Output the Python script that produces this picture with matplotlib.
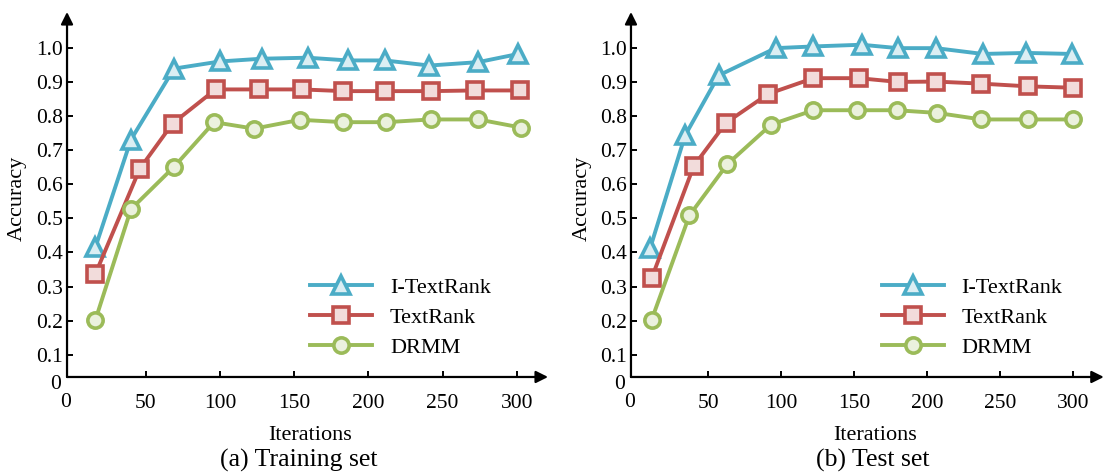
import matplotlib
matplotlib.use('Agg')
from matplotlib import pyplot as plt

# (a) Training set
train_iter_itr = [16, 40, 69, 100, 128, 159, 186, 211, 241, 274, 301]
train_acc_itr = [0.415, 0.731, 0.939, 0.960, 0.968, 0.971, 0.963, 0.963, 0.948, 0.958, 0.982]
train_iter_tr = [16, 46, 68, 97, 126, 155, 183, 211, 242, 272, 302]
train_acc_tr = [0.337, 0.646, 0.778, 0.878, 0.878, 0.878, 0.873, 0.873, 0.873, 0.875, 0.875]
train_iter_drmm = [16, 40, 69, 96, 123, 154, 183, 212, 242, 274, 303]
train_acc_drmm = [0.202, 0.527, 0.651, 0.782, 0.763, 0.789, 0.782, 0.782, 0.790, 0.790, 0.766]

# (b) Test set
test_iter_itr = [10, 34, 57, 96, 122, 155, 180, 206, 238, 268, 299]
test_acc_itr = [0.412, 0.743, 0.919, 0.999, 1.004, 1.009, 0.999, 0.999, 0.982, 0.985, 0.982]
test_iter_tr = [11, 40, 62, 91, 122, 153, 180, 206, 237, 269, 300]
test_acc_tr = [0.324, 0.654, 0.780, 0.865, 0.911, 0.911, 0.900, 0.901, 0.895, 0.887, 0.883]
test_iter_drmm = [11, 37, 63, 93, 122, 152, 179, 207, 237, 269, 300]
test_acc_drmm = [0.202, 0.509, 0.659, 0.775, 0.817, 0.817, 0.817, 0.809, 0.790, 0.790, 0.790]

x_ticks = [50, 100, 150, 200, 250, 300]
y_ticks = [0.1, 0.2, 0.3, 0.4, 0.5, 0.6, 0.7, 0.8, 0.9, 1.0]
labels = ['I-TextRank', 'TextRank', 'DRMM']

plt.rcParams['font.family'] = ['Liberation Serif', 'DejaVu Serif']


def draw_panel(ax, series, legend_x, xlabel_x):
    styles = [
        dict(color='#4bacc6', marker='^', markersize=13, markerfacecolor='#dbeef3'),
        dict(color='#c0504d', marker='s', markersize=12, markerfacecolor='#f2dcdb'),
        dict(color='#9bbb59', marker='o', markersize=11, markerfacecolor='#ebf1de'),
    ]
    for (xs, ys), lab, st in zip(series, labels, styles):
        ax.plot(xs, ys, label=lab, linewidth=2.8, markeredgewidth=2.6,
                markeredgecolor=st['color'], **st)

    ax.set_xlim(-3.1, 321)
    ax.set_ylim(0.035, 1.105)
    ax.set_xticks(x_ticks)
    ax.set_yticks(y_ticks)
    ax.set_yticklabels(['%.1f' % v for v in y_ticks])
    ax.tick_params(direction='in', length=4, width=1.4, labelsize=15.5)
    ax.tick_params(axis='x', pad=12)
    ax.tick_params(axis='y', pad=3)

    for s in ['top', 'right', 'left', 'bottom']:
        ax.spines[s].set_visible(False)
    # axes with arrows
    ax.annotate('', xy=(1, 0), xytext=(0, 0), xycoords='axes fraction',
                arrowprops=dict(arrowstyle='-|>', color='k', lw=1.6, mutation_scale=18,
                                shrinkA=0, shrinkB=0))
    ax.annotate('', xy=(0, 1), xytext=(0, 0), xycoords='axes fraction',
                arrowprops=dict(arrowstyle='-|>', color='k', lw=1.6, mutation_scale=18,
                                shrinkA=0, shrinkB=0))
    # origin labels
    ax.text(-0.012, -0.02, '0', transform=ax.transAxes, ha='right', va='center', fontsize=15.5)
    ax.text(-0.004, -0.07, '0', transform=ax.transAxes, ha='center', va='center', fontsize=15.5)

    ax.set_xlabel('Iterations', fontsize=16)
    ax.xaxis.set_label_coords(xlabel_x, -0.135)
    ax.set_ylabel('Accuracy', fontsize=16)
    ax.yaxis.set_label_coords(-0.083, 0.49)

    ax.legend(loc='center left', bbox_to_anchor=(legend_x, 0.162), frameon=False,
              fontsize=16, handlelength=2.8, handletextpad=0.8, labelspacing=0.42,
              borderpad=0, borderaxespad=0)


fig = plt.figure(figsize=(11.06, 4.72), dpi=100)
ax1 = fig.add_axes([0.0606, 0.2013, 0.4349, 0.7733])
ax2 = fig.add_axes([0.5705, 0.2013, 0.4275, 0.7733])

draw_panel(ax1, [(train_iter_itr, train_acc_itr), (train_iter_tr, train_acc_tr),
                 (train_iter_drmm, train_acc_drmm)], 0.505, 0.505)
draw_panel(ax2, [(test_iter_itr, test_acc_itr), (test_iter_tr, test_acc_tr),
                 (test_iter_drmm, test_acc_drmm)], 0.53, 0.516)

fig.text(0.2705, 0.0254, '(a) Training set', ha='center', va='center', fontsize=18.5)
fig.text(0.789, 0.0254, '(b) Test set', ha='center', va='center', fontsize=18.5)

fig.savefig('out.png', dpi=100)
